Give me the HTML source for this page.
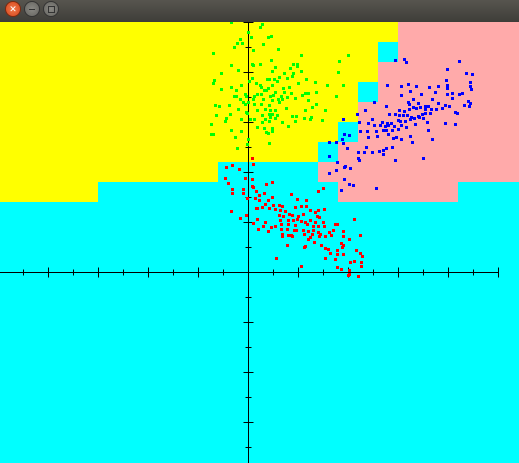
<!DOCTYPE html>
<html><head><meta charset="utf-8"><style>
html,body{margin:0;padding:0;width:519px;height:463px;overflow:hidden;background:#0ff;}
#bar{position:absolute;left:0;top:0;width:519px;height:22px;background:linear-gradient(#57554f,#3e3d39);}
.btn{position:absolute;top:1px;width:16px;height:16px;border-radius:50%;box-sizing:border-box;}
svg{position:absolute;left:0;top:22px;}
</style></head><body>
<div id="bar">
<div class="btn" style="left:5px;background:radial-gradient(#f07a4a,#d8461c);border:1px solid #7a2a10;color:#fff;font:9px 'Liberation Sans',sans-serif;text-align:center;line-height:14px;">✕</div>
<div class="btn" style="left:24px;background:radial-gradient(#8a8984,#65645f);border:1px solid #333;"><div style="position:absolute;left:4px;top:7px;width:6px;height:1px;background:#333"></div></div>
<div class="btn" style="left:43px;background:radial-gradient(#8a8984,#65645f);border:1px solid #333;"><div style="position:absolute;left:4px;top:4px;width:5px;height:5px;border:1px solid #333"></div></div>
</div>
<svg id="chart" width="519" height="441" viewBox="0 22 519 441"></svg>
<script>
// decision regions: rows of 20px cells starting y=22, columns at boundaries 18+20k; code Y=yellow C=cyan P=pink
const regionRows = [
 [[0,398,'Y'],[398,519,'P']],
 [[0,378,'Y'],[378,398,'C'],[398,519,'P']],
 [[0,378,'Y'],[378,519,'P']],
 [[0,358,'Y'],[358,378,'C'],[378,519,'P']],
 [[0,358,'Y'],[358,519,'P']],
 [[0,338,'Y'],[338,358,'C'],[358,519,'P']],
 [[0,318,'Y'],[318,338,'C'],[338,519,'P']],
 [[0,218,'Y'],[218,318,'C'],[318,519,'P']],
 [[0,98,'Y'],[98,338,'C'],[338,458,'P'],[458,519,'C']]
];
// data values: axis origin at (744, 816), 150 units per major tick
const green = [[694,67],[787,73],[781,82],[745,97],[754,112],[814,109],[805,112],[721,118],[712,130],[727,130],[790,133],[703,142],[640,160],[760,151],[835,148],[904,166],[1045,166],[1018,184],[814,181],[757,193],[781,193],[760,196],[694,196],[826,202],[880,193],[892,193],[892,199],[715,211],[817,214],[871,205],[904,214],[1015,217],[664,220],[853,220],[880,220],[877,229],[757,235],[838,232],[862,235],[919,238],[643,241],[640,250],[748,244],[769,250],[802,238],[808,238],[823,238],[832,244],[895,250],[946,247],[724,256],[781,256],[817,256],[982,256],[1030,256],[664,268],[694,262],[709,271],[784,262],[805,265],[850,265],[868,262],[793,271],[799,271],[826,277],[853,277],[874,280],[916,280],[925,280],[949,277],[703,289],[709,289],[736,283],[739,289],[763,289],[772,283],[784,283],[820,286],[844,289],[811,289],[1009,289],[721,298],[760,298],[790,298],[817,301],[835,298],[847,298],[862,292],[886,295],[907,286],[925,301],[730,307],[745,307],[736,313],[658,319],[646,316],[688,316],[763,313],[784,313],[808,316],[838,307],[950,313],[715,328],[739,337],[772,331],[796,328],[811,331],[826,331],[859,325],[916,331],[937,322],[976,331],[649,346],[691,343],[742,340],[787,346],[808,343],[817,343],[832,346],[877,349],[889,349],[913,355],[934,352],[679,355],[724,358],[751,358],[763,358],[796,358],[811,352],[826,355],[676,364],[787,367],[808,364],[847,367],[865,379],[886,364],[931,358],[967,361],[634,373],[772,382],[793,385],[817,385],[817,394],[694,391],[724,394],[799,397],[805,400],[634,403],[640,403],[706,412],[745,418],[808,430],[712,445],[742,433]];
const red = [[757,475],[760,493],[679,502],[697,496],[718,508],[676,535],[736,535],[757,538],[685,550],[817,547],[799,553],[757,559],[760,562],[697,568],[730,568],[769,574],[955,574],[970,565],[697,580],[730,580],[778,586],[793,580],[817,592],[766,595],[741,595],[874,583],[778,601],[805,601],[919,601],[892,598],[796,613],[820,616],[838,616],[847,619],[787,622],[808,625],[826,628],[841,631],[856,634],[769,625],[772,625],[904,619],[919,619],[886,622],[931,631],[955,631],[973,628],[946,637],[694,634],[739,646],[838,646],[850,649],[868,643],[877,646],[895,649],[910,643],[952,649],[958,652],[841,661],[865,661],[880,661],[892,658],[904,664],[916,667],[931,661],[946,667],[970,667],[1006,673],[1012,673],[772,658],[796,667],[721,655],[760,670],[814,682],[844,673],[865,673],[886,676],[922,673],[940,679],[955,679],[973,679],[1063,658],[775,688],[790,679],[826,679],[844,688],[862,688],[883,691],[889,691],[910,691],[925,694],[940,691],[955,697],[988,697],[1000,691],[1030,694],[805,694],[847,703],[847,709],[874,706],[913,703],[937,703],[958,709],[976,709],[994,706],[1030,709],[1081,706],[865,706],[877,709],[925,718],[931,712],[961,703],[1048,718],[1024,730],[1030,736],[862,736],[916,739],[913,742],[943,727],[964,736],[976,745],[985,748],[1027,742],[1069,751],[1081,760],[1087,769],[1012,751],[1012,763],[991,760],[976,775],[1006,778],[1030,763],[1051,787],[1063,784],[1084,787],[1084,799],[829,775],[904,799],[1012,802],[1024,808],[1048,811],[1048,823],[1045,826],[1075,829]];
const blue = [[1186,181],[1213,178],[1219,187],[1378,184],[1342,208],[1399,220],[1417,223],[1162,256],[1204,259],[1225,253],[1249,259],[1288,262],[1315,259],[1339,241],[1342,256],[1342,265],[1411,247],[1411,259],[1414,268],[1231,274],[1264,283],[1204,286],[1240,298],[1306,277],[1342,283],[1357,280],[1357,295],[1378,283],[1387,280],[1225,307],[1228,313],[1255,310],[1297,298],[1315,310],[1405,304],[1411,310],[1408,319],[1393,316],[1336,316],[1348,319],[1123,307],[1159,319],[1198,331],[1213,334],[1228,328],[1240,322],[1249,325],[1261,322],[1276,319],[1285,319],[1276,328],[1294,328],[1309,328],[1327,325],[1096,331],[1072,343],[1168,343],[1186,343],[1198,346],[1210,346],[1222,346],[1234,352],[1255,349],[1267,343],[1276,340],[1291,340],[1366,337],[1372,340],[1030,358],[1117,358],[1105,370],[1147,367],[1162,370],[1174,370],[1195,361],[1201,364],[1216,364],[1231,358],[1243,355],[1258,352],[1270,355],[1078,367],[1123,376],[1141,376],[1156,379],[1165,376],[1183,379],[1204,376],[1219,382],[1246,373],[1282,367],[1336,370],[1366,373],[1081,394],[1102,394],[1129,394],[1150,391],[1159,391],[1177,391],[1195,388],[1231,409],[1285,391],[1297,418],[1033,403],[1048,406],[1105,412],[1132,409],[1165,403],[1180,415],[1189,412],[1204,418],[1237,427],[1028,418],[988,427],[1009,427],[1030,430],[1042,445],[1099,442],[1075,457],[1093,457],[1117,457],[1138,454],[1150,451],[1150,463],[1159,445],[1177,442],[1270,475],[1186,481],[1078,481],[1075,475],[988,469],[1012,487],[1033,502],[1036,499],[1051,505],[988,520],[1009,511],[1033,538],[1048,553],[1060,556],[1024,571],[1129,565]];
const xTicks = [-9,-8,-7,-6,-5,-4,-3,-2,-1,1,2,3,4,5,6,7,8,9,10];
const yTicks = [-7,-6,-5,-4,-3,-2,-1,1,2,3,4,5,6,7,8,9,10];

const X0 = 248, Y0 = 272;
const xs = v => X0 + (v - 744) / 3;
const ys = v => Y0 - (816 - v) / 3;
const xt = t => X0 + t * 25;
const yt = t => Y0 - t * 25;
const svg = document.getElementById('chart');
const NS = 'http://www.w3.org/2000/svg';
function mk(tag, attrs){const e=document.createElementNS(NS,tag);for(const k in attrs)e.setAttribute(k,attrs[k]);svg.appendChild(e);return e;}
const colors = {Y:'#ffff00',C:'#00ffff',P:'#ffaaaa'};
mk('rect',{x:0,y:202,width:519,height:261,fill:'#00ffff'});
regionRows.forEach((row,i)=>{row.forEach(seg=>{
  const r = mk('rect',{x:seg[0],y:22+i*20,width:seg[1]-seg[0],height:20,fill:colors[seg[2]]});
  
  
});});
// axes
const xa = mk('line',{x1:0,y1:Y0+0.5,x2:498,y2:Y0+0.5,stroke:'#000','stroke-width':1});


const ya = mk('line',{x1:X0+0.5,y1:22,x2:X0+0.5,y2:463,stroke:'#000','stroke-width':1});


xTicks.forEach(t=>{const L = (t%2===0)?5:3; const x=xt(t)+0.5;
  const e = mk('line',{x1:x,y1:Y0-L+0.5,x2:x,y2:Y0+L+0.5,stroke:'#000'});
  
  
});
yTicks.forEach(t=>{const L = (t%2===0)?5:3; const y=yt(t)+0.5;
  const e = mk('line',{x1:X0-L+0.5,y1:y,x2:X0+L+0.5,y2:y,stroke:'#000'});
  
  
});
function pts(arr,col,name){arr.forEach(p=>{
  const r = mk('rect',{x:Math.round(xs(p[0])-1.5),y:Math.round(ys(p[1])-1.5),width:3,height:3,fill:col});
  
  
});}
pts(green,'#00ff00','green-point');
pts(red,'#ff0000','red-point');
pts(blue,'#0000ff','blue-point');
</script>
</body></html>
